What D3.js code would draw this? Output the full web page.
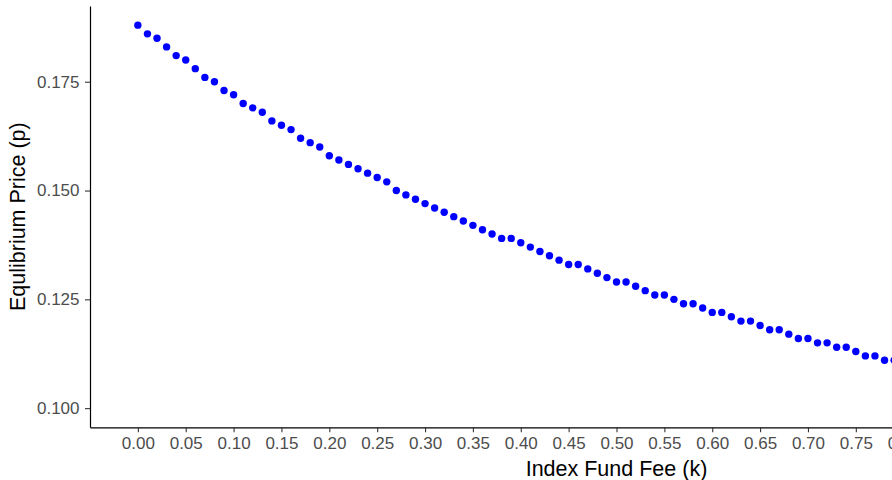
<!DOCTYPE html>
<html>
<head>
<meta charset="utf-8">
<script src="https://cdn.jsdelivr.net/npm/d3@7"></script>
<style>
  html, body { margin: 0; padding: 0; background: #fff; overflow: hidden; }
  svg { display: block; font-family: "Liberation Sans", Arial, sans-serif; }
</style>
</head>
<body>
<svg id="chart" width="892" height="480"></svg>
<script>
// Data: index fund fee k (0.00 .. 0.79 visible) and equilibrium price p
const fees = d3.range(0, 80).map(i => +(i / 100).toFixed(2));
const prices = [
  0.188, 0.186, 0.185, 0.183, 0.181, 0.180, 0.178, 0.176, 0.175, 0.173,
  0.172, 0.170, 0.169, 0.168, 0.166, 0.165, 0.164, 0.162, 0.161, 0.160,
  0.158, 0.157, 0.156, 0.155, 0.154, 0.153, 0.152, 0.150, 0.149, 0.148,
  0.147, 0.146, 0.145, 0.144, 0.143, 0.142, 0.141, 0.140, 0.139, 0.139,
  0.138, 0.137, 0.136, 0.135, 0.134, 0.133, 0.133, 0.132, 0.131, 0.130,
  0.129, 0.129, 0.128, 0.127, 0.126, 0.126, 0.125, 0.124, 0.124, 0.123,
  0.122, 0.122, 0.121, 0.120, 0.120, 0.119, 0.118, 0.118, 0.117, 0.116,
  0.116, 0.115, 0.115, 0.114, 0.114, 0.113, 0.112, 0.112, 0.111, 0.111
];
const xTicks = d3.range(0, 21).map(i => +(i * 0.05).toFixed(2));
const yTicks = [0.100, 0.125, 0.150, 0.175];
const xDomain = [0, 1];          // full data range of the fee axis (plot extends past the window)
const yDomain = [0.100, 0.188];  // data range of the price axis

const svg = d3.select("#chart");

// ggplot-like 5% expansion
const xPad = (xDomain[1] - xDomain[0]) * 0.05;
const yPad = (yDomain[1] - yDomain[0]) * 0.05;
const panelLeft = 90, panelTop = 6, panelBottom = 427.3;
const panelRight = 1143;

const x = d3.scaleLinear()
  .domain([xDomain[0] - xPad, xDomain[1] + xPad])
  .range([panelLeft, panelRight]);
const y = d3.scaleLinear()
  .domain([yDomain[0] - yPad, yDomain[1] + yPad])
  .range([panelBottom, panelTop]);

const data = fees.map((f, i) => ({ k: f, p: prices[i] }));

// points
svg.append("g")
  .selectAll("circle")
  .data(data)
  .join("circle")
  .attr("cx", d => x(d.k))
  .attr("cy", d => y(d.p))
  .attr("r", 3.7)
  .attr("fill", "#0000ff");

// axes
const xAxis = svg.append("g")
  .attr("transform", `translate(0,${panelBottom})`)
  .call(d3.axisBottom(x).tickValues(xTicks).tickFormat(d3.format(".2f")).tickSize(5).tickSizeOuter(0).tickPadding(5));
const yAxis = svg.append("g")
  .attr("transform", `translate(${panelLeft},0)`)
  .call(d3.axisLeft(y).tickValues(yTicks).tickFormat(d3.format(".3f")).tickSize(5).tickSizeOuter(0).tickPadding(5.5));

[xAxis, yAxis].forEach(g => {
  g.select(".domain").attr("stroke", "#000").attr("stroke-width", 1.2);
  g.selectAll(".tick line").attr("stroke", "#333").attr("stroke-width", 1.1);
  g.selectAll(".tick text").attr("fill", "#4d4d4d").style("font-size", "17px");
});

// axis titles
svg.append("text")
  .attr("x", (panelLeft + panelRight) / 2)
  .attr("y", 475.5)
  .attr("text-anchor", "middle")
  .style("font-size", "21.5px")
  .attr("fill", "#000")
  .text("Index Fund Fee (k)");

svg.append("text")
  .attr("transform", `translate(25,${(panelTop + panelBottom) / 2}) rotate(-90)`)
  .attr("text-anchor", "middle")
  .style("font-size", "21.5px")
  .attr("fill", "#000")
  .text("Equlibrium Price (p)");
</script>
</body>
</html>
